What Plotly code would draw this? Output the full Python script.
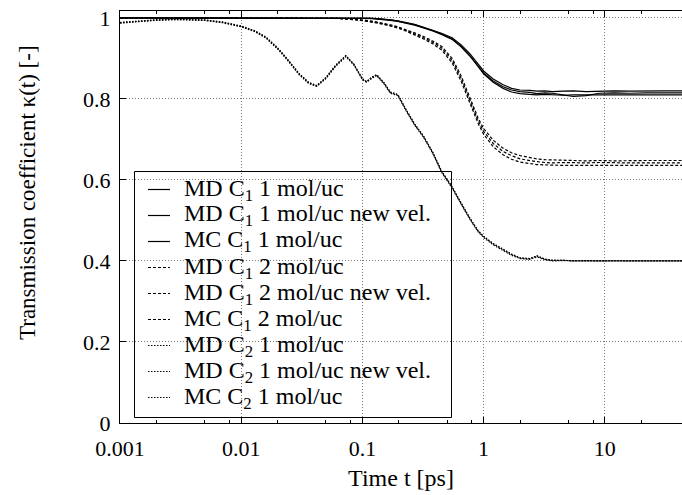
import plotly.graph_objects as go

# Time grid [ps]
T = [0.001, 0.0015, 0.002, 0.003, 0.005, 0.007, 0.01, 0.013, 0.016, 0.02,
     0.024, 0.03, 0.036, 0.042, 0.05, 0.06, 0.073, 0.085, 0.1, 0.108,
     0.12, 0.131, 0.15, 0.17, 0.196, 0.23, 0.27, 0.32, 0.38, 0.45,
     0.55, 0.65, 0.77, 0.9, 1.0, 1.2, 1.45, 1.7, 2.0, 2.4,
     2.75, 3.2, 3.7, 4.5, 5.5, 7, 9, 12, 16, 22,
     30, 45]

# C1 1 mol/uc (solid)
md_c1_1 = [1.0] * 18 + [1.0, 0.999, 0.999, 0.998, 0.997, 0.995, 0.993, 0.989, 0.984, 0.977,
                        0.970, 0.962, 0.951, 0.934, 0.912, 0.886, 0.869, 0.849, 0.835, 0.826,
                        0.822, 0.821, 0.819, 0.820, 0.818, 0.819, 0.820, 0.818, 0.819, 0.820,
                        0.819, 0.820, 0.820, 0.820]
md_c1_1_nv = [1.0] * 18 + [1.0, 0.999, 0.998, 0.997, 0.996, 0.994, 0.991, 0.987, 0.982, 0.975,
                           0.968, 0.959, 0.947, 0.929, 0.906, 0.881, 0.864, 0.844, 0.830, 0.822,
                           0.818, 0.816, 0.813, 0.815, 0.814, 0.810, 0.806, 0.808, 0.814, 0.815,
                           0.814, 0.815, 0.815, 0.815]
mc_c1_1 = [1.0] * 18 + [1.0, 1.0, 0.999, 0.998, 0.997, 0.995, 0.992, 0.988, 0.983, 0.976,
                        0.969, 0.960, 0.948, 0.930, 0.907, 0.880, 0.862, 0.841, 0.826, 0.817,
                        0.813, 0.811, 0.810, 0.811, 0.810, 0.809, 0.810, 0.810, 0.811, 0.810,
                        0.810, 0.810, 0.810, 0.810]

# C1 2 mol/uc (dashed)
md_c1_2 = [1.0] * 14 + [1.0, 0.999, 0.998, 0.997, 0.995, 0.994, 0.992, 0.990, 0.987, 0.983,
                        0.978, 0.971, 0.963, 0.954, 0.943, 0.930, 0.900, 0.858, 0.803, 0.753,
                        0.727, 0.698, 0.678, 0.667, 0.660, 0.655, 0.652, 0.650, 0.649, 0.648,
                        0.648, 0.647, 0.648, 0.647, 0.648, 0.648, 0.648, 0.648]
md_c1_2_nv = [1.0] * 14 + [1.0, 0.999, 0.998, 0.996, 0.994, 0.993, 0.991, 0.989, 0.985, 0.981,
                           0.976, 0.969, 0.961, 0.951, 0.940, 0.926, 0.895, 0.852, 0.797, 0.747,
                           0.720, 0.690, 0.670, 0.660, 0.652, 0.647, 0.645, 0.643, 0.642, 0.643,
                           0.642, 0.642, 0.643, 0.642, 0.642, 0.642, 0.642, 0.642]
mc_c1_2 = [1.0] * 14 + [1.0, 0.999, 0.997, 0.996, 0.994, 0.992, 0.990, 0.988, 0.984, 0.980,
                        0.975, 0.967, 0.958, 0.948, 0.936, 0.921, 0.889, 0.845, 0.790, 0.740,
                        0.713, 0.682, 0.662, 0.651, 0.644, 0.640, 0.638, 0.637, 0.636, 0.636,
                        0.636, 0.636, 0.636, 0.636, 0.636, 0.636, 0.636, 0.636]

# C2 1 mol/uc (dotted)
md_c2_1 = [0.988, 0.992, 0.995, 0.996, 0.994, 0.989, 0.979, 0.967, 0.952, 0.925,
           0.898, 0.862, 0.840, 0.832, 0.852, 0.882, 0.906, 0.885, 0.849, 0.842,
           0.853, 0.859, 0.840, 0.816, 0.810, 0.772, 0.737, 0.707, 0.668, 0.621,
           0.582, 0.543, 0.505, 0.474, 0.460, 0.442, 0.427, 0.416, 0.407, 0.405,
           0.413, 0.404, 0.401, 0.402, 0.400, 0.401, 0.400, 0.400, 0.400, 0.400,
           0.400, 0.400]
md_c2_1_nv = [0.987, 0.991, 0.994, 0.996, 0.994, 0.988, 0.978, 0.966, 0.950, 0.923,
              0.896, 0.860, 0.838, 0.831, 0.850, 0.880, 0.904, 0.884, 0.848, 0.841,
              0.851, 0.857, 0.838, 0.814, 0.808, 0.770, 0.735, 0.705, 0.666, 0.619,
              0.580, 0.541, 0.503, 0.472, 0.458, 0.440, 0.425, 0.414, 0.406, 0.404,
              0.410, 0.403, 0.400, 0.401, 0.400, 0.400, 0.401, 0.400, 0.400, 0.400,
              0.400, 0.400]
mc_c2_1 = [0.989, 0.993, 0.995, 0.997, 0.995, 0.990, 0.980, 0.968, 0.953, 0.926,
           0.899, 0.863, 0.841, 0.833, 0.853, 0.883, 0.907, 0.886, 0.850, 0.843,
           0.854, 0.860, 0.841, 0.817, 0.811, 0.773, 0.738, 0.708, 0.669, 0.622,
           0.583, 0.544, 0.506, 0.475, 0.461, 0.443, 0.428, 0.417, 0.408, 0.406,
           0.412, 0.405, 0.402, 0.401, 0.401, 0.400, 0.400, 0.401, 0.400, 0.400,
           0.400, 0.400]

series_names = [
    "MD C<sub>1</sub> 1 mol/uc",
    "MD C<sub>1</sub> 1 mol/uc new vel.",
    "MC C<sub>1</sub> 1 mol/uc",
    "MD C<sub>1</sub> 2 mol/uc",
    "MD C<sub>1</sub> 2 mol/uc new vel.",
    "MC C<sub>1</sub> 2 mol/uc",
    "MD C<sub>2</sub> 1 mol/uc",
    "MD C<sub>2</sub> 1 mol/uc new vel.",
    "MC C<sub>2</sub> 1 mol/uc",
]
series_values = [md_c1_1, md_c1_1_nv, mc_c1_1,
                 md_c1_2, md_c1_2_nv, mc_c1_2,
                 md_c2_1, md_c2_1_nv, mc_c2_1]
series_dash = ["solid"] * 3 + ["3px,2px"] * 3 + ["1.5px,1.5px"] * 3

x_major = [0.001, 0.01, 0.1, 1, 10]
x_major_text = ["0.001", "0.01", "0.1", "1", "10"]
x_minor = [m * d for d in [0.001, 0.01, 0.1, 1, 10] for m in (2, 5, 8)]
y_major = [0, 0.2, 0.4, 0.6, 0.8, 1.0]
y_major_text = ["0", "0.2", "0.4", "0.6", "0.8", "1"]

FONT = "'Liberation Serif', 'DejaVu Serif', serif"

# geometry (pixels) used to place the legend box and titles
W, H = 682, 495
ML, MR, MT, MB = 120, 0, 11, 72
PW, PH = W - ML - MR, H - MT - MB


def px_x(p):
    return (p - ML) / PW


def px_y(p):
    return (H - MB - p) / PH


fig = go.Figure()
for name, vals, dash in zip(series_names, series_values, series_dash):
    fig.add_trace(go.Scatter(
        x=T, y=vals, mode="lines", name=name, showlegend=False,
        line=dict(color="black", width=1.2, dash=dash),
    ))

# legend box (drawn between grid and traces, as in the reference)
shapes = [dict(type="rect", xref="paper", yref="paper",
               x0=px_x(134.5), x1=px_x(451.5), y0=px_y(417.5), y1=px_y(171.5),
               line=dict(color="black", width=1), fillcolor="white", layer="between")]
annotations = []
row0, row_h = 189.5, 26.0
for i, (name, dash) in enumerate(zip(series_names, series_dash)):
    yc = row0 + i * row_h
    shapes.append(dict(type="line", xref="paper", yref="paper",
                       x0=px_x(148), x1=px_x(170), y0=px_y(yc), y1=px_y(yc),
                       line=dict(color="black", width=1.2, dash=dash), layer="above"))
    annotations.append(dict(text=name, xref="paper", yref="paper",
                            x=px_x(182), y=px_y(yc), xanchor="left", yanchor="middle",
                            showarrow=False, font=dict(family=FONT, size=24, color="black")))

# y-axis title
annotations.append(dict(text="Transmission coefficient κ(t) [-]", xref="paper", yref="paper",
                        x=px_x(27), y=px_y(193), xanchor="center", yanchor="middle",
                        textangle=-90, showarrow=False,
                        font=dict(family=FONT, size=23, color="black")))

fig.update_layout(
    width=W, height=H,
    margin=dict(l=ML, r=MR, t=MT, b=MB),
    paper_bgcolor="white", plot_bgcolor="white",
    font=dict(family=FONT, size=22, color="black"),
    showlegend=False,
    shapes=shapes,
    annotations=annotations,
    xaxis=dict(
        type="log", range=[-3, 1.637],
        tickvals=x_major, ticktext=x_major_text,
        ticks="inside", ticklen=6, tickcolor="black",
        showline=True, linecolor="black", linewidth=1, mirror="ticks",
        showgrid=True, gridcolor="#777777", griddash="1px,2px", gridwidth=1,
        zeroline=False, automargin=False,
        minor=dict(tickvals=x_minor, ticks="inside", ticklen=3, tickcolor="black", showgrid=False),
        ticklabelstandoff=6,
        tickfont=dict(family=FONT, size=22),
        title=dict(text="Time t [ps]", standoff=8, font=dict(family=FONT, size=24)),
    ),
    yaxis=dict(
        range=[0, 1.017],
        tickvals=y_major, ticktext=y_major_text,
        ticks="inside", ticklen=6, tickcolor="black",
        showline=True, linecolor="black", linewidth=1, mirror=False,
        showgrid=True, gridcolor="#777777", griddash="1px,2px", gridwidth=1,
        zeroline=False, automargin=False,
        ticklabelstandoff=4,
        tickfont=dict(family=FONT, size=22),
    ),
)

fig.write_html("out.html")
